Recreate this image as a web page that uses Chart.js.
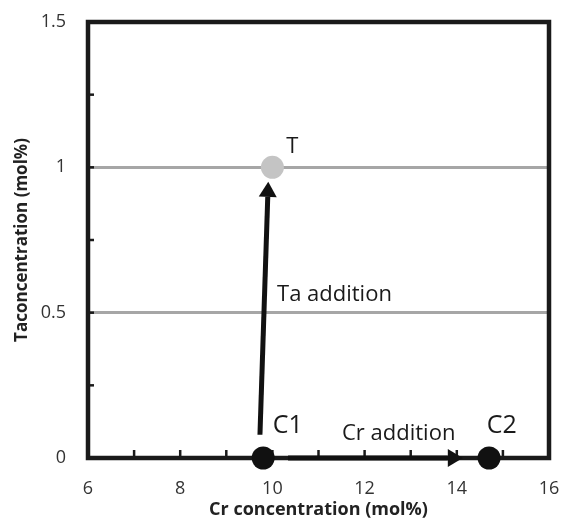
<!DOCTYPE html>
<html><head><meta charset="utf-8">
<script src="https://cdn.jsdelivr.net/npm/chart.js@4/dist/chart.umd.min.js"></script>
<style>html,body{margin:0;padding:0;background:#fff}#wrap{width:561px;height:524px}</style>
</head><body><div id="wrap"><canvas id="c" width="561" height="524"></canvas></div>
<script>
// Data points
const pointNames = ['C1', 'C2', 'T'];
const pointX = [9.8, 14.7, 10.0];
const pointY = [0, 0, 1.0];
const pointColors = ['#111111', '#111111', '#c4c4c4'];
// Arrows: start -> end (data units)
const arrowStartX = [9.73, 10.34];
const arrowStartY = [0.08, 0];
const arrowEndX = [9.91, 14.13];
const arrowEndY = [0.95, 0];
// Text annotations (left edge, baseline)
const noteText = ['T', 'C1', 'C2', 'Ta addition', 'Cr addition'];
const noteX = [10.30, 10.01, 14.65, 10.10, 11.51];
const noteY = [1.05, 0.086, 0.086, 0.54, 0.062];
const noteSize = [22, 25, 25, 22, 22];
// Axes
const xMin = 6, xMax = 16, yMin = 0, yMax = 1.5;
const xLabelTicks = [6, 8, 10, 12, 14, 16];
const yLabelTicks = [0, 0.5, 1, 1.5];
const yGridValues = [0.5, 1];

const FONT = "'Open Sans', 'Liberation Sans', sans-serif";

const decor = {
  id: 'decor',
  beforeDatasetsDraw(chart) {
    const {ctx, chartArea: a, scales: {x, y}} = chart;
    ctx.save();
    // inner ticks
    ctx.strokeStyle = '#1a1a1a';
    ctx.lineWidth = 2.5;
    for (let v = xMin + 1; v < xMax; v++) {
      const px = x.getPixelForValue(v);
      ctx.beginPath(); ctx.moveTo(px, a.bottom); ctx.lineTo(px, a.bottom - 8); ctx.stroke();
    }
    for (let v = 0.25; v < yMax; v += 0.25) {
      const py = y.getPixelForValue(v);
      ctx.beginPath(); ctx.moveTo(a.left, py); ctx.lineTo(a.left + 6, py); ctx.stroke();
    }
    // frame
    ctx.strokeStyle = '#1a1a1a'; ctx.lineWidth = 4.5;
    ctx.strokeRect(a.left, a.top, a.right - a.left, a.bottom - a.top);
    // arrows
    ctx.strokeStyle = '#111'; ctx.fillStyle = '#111'; ctx.lineWidth = 5;
    for (let i = 0; i < arrowStartX.length; i++) {
      const x0 = x.getPixelForValue(arrowStartX[i]), y0 = y.getPixelForValue(arrowStartY[i]);
      const x1 = x.getPixelForValue(arrowEndX[i]), y1 = y.getPixelForValue(arrowEndY[i]);
      const ang = Math.atan2(y1 - y0, x1 - x0);
      const hl = 15, hw = 9;
      const bx = x1 - hl * Math.cos(ang), by = y1 - hl * Math.sin(ang);
      ctx.beginPath(); ctx.moveTo(x0, y0); ctx.lineTo(bx, by); ctx.stroke();
      ctx.beginPath();
      ctx.moveTo(x1, y1);
      ctx.lineTo(bx + hw * Math.sin(ang), by - hw * Math.cos(ang));
      ctx.lineTo(bx - hw * Math.sin(ang), by + hw * Math.cos(ang));
      ctx.closePath(); ctx.fill();
    }
    ctx.restore();
  },
  afterDatasetsDraw(chart) {
    const {ctx, scales: {x, y}} = chart;
    ctx.save();
    ctx.fillStyle = '#1a1a1a';
    ctx.textAlign = 'left'; ctx.textBaseline = 'alphabetic';
    for (let i = 0; i < noteText.length; i++) {
      ctx.font = noteSize[i] + 'px ' + FONT;
      ctx.fillText(noteText[i], x.getPixelForValue(noteX[i]), y.getPixelForValue(noteY[i]));
    }
    ctx.restore();
  }
};

new Chart(document.getElementById('c'), {
  type: 'scatter',
  data: {
    datasets: [{
      data: pointX.map((v, i) => ({x: v, y: pointY[i]})),
      pointRadius: 11.5,
      pointHoverRadius: 11.5,
      pointBackgroundColor: pointColors,
      pointBorderColor: pointColors,
      pointBorderWidth: 0,
      clip: false
    }]
  },
  options: {
    responsive: false,
    animation: false,
    layout: {padding: {top: 22, right: 12, left: 0, bottom: 0}},
    plugins: {legend: {display: false}, tooltip: {enabled: false}},
    scales: {
      x: {
        type: 'linear', min: xMin, max: xMax,
        afterFit(s) { s.height = 66; s.paddingLeft = 0; s.paddingRight = 0; },
        afterBuildTicks(s) { s.ticks = xLabelTicks.map(v => ({value: v})); },
        grid: {display: false, drawTicks: false},
        border: {display: false},
        ticks: {padding: 20, color: '#333', font: {family: FONT, size: 18}, callback: v => String(v)},
        title: {display: true, text: 'Cr concentration (mol%)', color: '#222', font: {family: FONT, size: 18, weight: 'bold'}, padding: {top: 3, bottom: 3}}
      },
      y: {
        type: 'linear', min: yMin, max: yMax,
        afterFit(s) { s.width = 88; s.paddingTop = 0; s.paddingBottom = 0; },
        afterBuildTicks(s) { s.ticks = yLabelTicks.map(v => ({value: v})); },
        grid: {
          drawTicks: false,
          color: c => yGridValues.includes(c.tick.value) ? '#a6a6a6' : 'rgba(0,0,0,0)',
          lineWidth: 3
        },
        border: {display: false},
        ticks: {padding: 22, color: '#333', font: {family: FONT, size: 18}, callback: v => String(v)},
        title: {display: true, text: 'Taconcentration (mol%)', color: '#222', font: {family: FONT, size: 17, weight: 'bold'}, padding: {top: 12, bottom: 4}}
      }
    }
  },
  plugins: [decor]
});
</script></body></html>
